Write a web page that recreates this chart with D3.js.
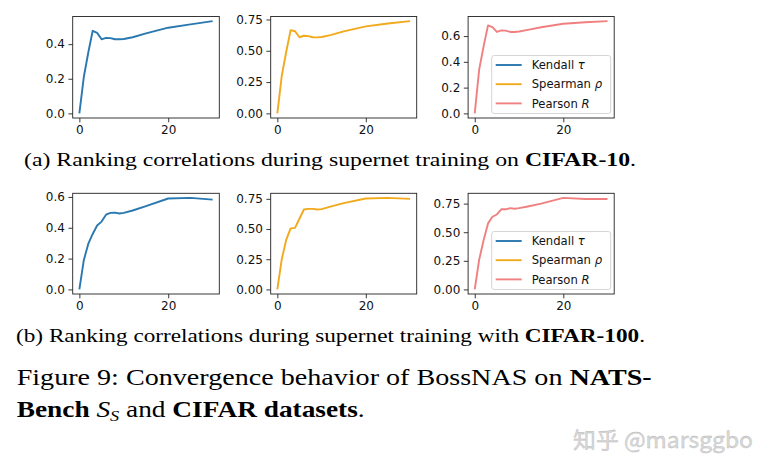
<!DOCTYPE html>
<html><head><meta charset="utf-8">
<script src="https://cdn.jsdelivr.net/npm/d3@7"></script>
<style>body{margin:0;background:#fff}svg{display:block}</style>
</head><body>
<svg id="c" width="772" height="473"></svg>
<script>
// ---- data ----
const epochs = [0,1,2,3,4,5,6,7,8,9,10,12,15,20,25,30];
const kendallC10  = [0,0.21,0.35,0.477,0.465,0.428,0.436,0.435,0.428,0.428,0.430,0.440,0.462,0.495,0.514,0.533];
const spearmanC10 = [0,0.30,0.49,0.665,0.656,0.608,0.620,0.617,0.608,0.607,0.610,0.625,0.655,0.695,0.718,0.737];
const pearsonC10  = [0,0.34,0.52,0.683,0.670,0.632,0.644,0.642,0.632,0.632,0.635,0.648,0.668,0.696,0.707,0.716];
const kendallC100  = [0,0.19,0.295,0.36,0.415,0.44,0.485,0.497,0.498,0.493,0.497,0.512,0.540,0.590,0.594,0.583];
const spearmanC100 = [0,0.25,0.41,0.505,0.51,0.585,0.662,0.667,0.667,0.662,0.665,0.685,0.715,0.753,0.758,0.750];
const pearsonC100  = [0,0.26,0.43,0.577,0.635,0.655,0.70,0.70,0.71,0.705,0.71,0.725,0.75,0.80,0.79,0.79];
const xTicks = [0, 20];
const yTicksA = [[0,0.2,0.4],[0,0.25,0.5,0.75],[0,0.2,0.4,0.6]];
const yTicksB = [[0,0.2,0.4,0.6],[0,0.25,0.5,0.75],[0,0.25,0.5,0.75]];
const yFmtA = [".1f", ".2f", ".1f"];
const yFmtB = [".1f", ".2f", ".2f"];
const seriesNames = ["Kendall", "Spearman", "Pearson"];
const seriesSymbols = ["τ", "ρ", "R"];
const colors = ["#2a78b0", "#f2a91c", "#f08080"];

const svg = d3.select("#c");
svg.append("rect").attr("width",772).attr("height",473).attr("fill","#fff");

const cols = [[72.7,219.3],[270.7,416.7],[468.1,614.2]];
const rows = [[16.5,118],[193.3,294]];

function panel(ci, ri, values, color, ticks, fmt, legend){
  const [x0,x1] = cols[ci], [y0,y1] = rows[ri];
  const x = d3.scaleLinear().domain([-1.5,31.5]).range([x0,x1]);
  const [mn,mx] = d3.extent(values); const pad = (mx-mn)*0.05;
  const y = d3.scaleLinear().domain([mn-pad, mx+pad]).range([y1,y0]);
  const g = svg.append("g");
  const ax = g.append("g").attr("transform",`translate(0,${y1})`)
    .call(d3.axisBottom(x).tickValues(xTicks).tickSize(4.3).tickPadding(3.5).tickFormat(d3.format("d")));
  const ay = g.append("g").attr("transform",`translate(${x0},0)`)
    .call(d3.axisLeft(y).tickValues(ticks).tickSize(4.3).tickPadding(3.5).tickFormat(d3.format(fmt)));
  [ax,ay].forEach(a=>{
    a.select(".domain").remove();
    a.selectAll("line").attr("stroke","#222").attr("stroke-width",0.9);
    a.selectAll("text").attr("font-family","DejaVu Sans").attr("font-size",12).attr("fill","#111");
  });
  const line = d3.line().x((d,i)=>x(epochs[i])).y(d=>y(d));
  g.append("path").datum(values).attr("d",line).attr("fill","none")
    .attr("stroke",color).attr("stroke-width",1.9).attr("stroke-linejoin","round");
  g.append("rect").attr("x",x0).attr("y",y0).attr("width",x1-x0).attr("height",y1-y0)
    .attr("fill","none").attr("stroke","#222").attr("stroke-width",0.9);
  if(legend){
    const bw=119, bh=58, bx=x1-3.5-bw, by=y1-4.5-bh;
    g.append("rect").attr("x",bx).attr("y",by).attr("width",bw).attr("height",bh).attr("rx",2.5)
      .attr("fill","#fff").attr("fill-opacity",0.85).attr("stroke","#d0d0d0").attr("stroke-width",0.9);
    seriesNames.forEach((n,i)=>{
      const cy = by + 9.5 + i*19.2;
      g.append("line").attr("x1",bx+4).attr("x2",bx+30).attr("y1",cy).attr("y2",cy)
        .attr("stroke",colors[i]).attr("stroke-width",1.9);
      const t = g.append("text").attr("x",bx+40).attr("y",cy).attr("dy","0.36em")
        .attr("font-family","DejaVu Sans").attr("font-size",11.6).attr("fill","#111");
      t.append("tspan").text(n+" ");
      t.append("tspan").attr("font-style","italic").text(seriesSymbols[i]);
    });
  }
}
const rowA=[kendallC10,spearmanC10,pearsonC10], rowB=[kendallC100,spearmanC100,pearsonC100];
rowA.forEach((v,i)=>panel(i,0,v,colors[i],yTicksA[i],yFmtA[i],i===2));
rowB.forEach((v,i)=>panel(i,1,v,colors[i],yTicksB[i],yFmtB[i],i===2));

// captions
function cap(x,y,size,len,parts){
  const t = svg.append("text").attr("x",x).attr("y",y).attr("font-family","Liberation Serif")
    .attr("font-size",size).attr("fill","#000")
    .attr("textLength",len).attr("lengthAdjust","spacingAndGlyphs");
  parts.forEach(p=>{
    const s=t.append("tspan").text(p[0]);
    if(p[1]) s.attr("font-weight","bold");
    if(p[2]) s.attr("font-style","italic");
    if(p[3]) s.attr("dy",p[3]).attr("font-size",p[4]);
  });
  return t;
}
cap(24,166,19.5,612,[["(a) Ranking correlations during supernet training on "],["CIFAR-10",1],["."]]);
cap(16,341.7,19.5,629,[["(b) Ranking correlations during supernet training with "],["CIFAR-100",1],["."]]);
cap(16.7,385,22.5,635,[["Figure 9:  Convergence behavior of BossNAS on "],["NATS-",1]]);
cap(16.7,416.7,22.5,348,[["Bench ",1],["S",0,1],["S",0,1,4,15],[" and ",0,0,-4,22.5],["CIFAR datasets",1],["."]]);

// watermark
svg.append("text").attr("x",573).attr("y",448).attr("font-family","Noto Sans CJK SC")
  .attr("font-size",22).attr("fill","#dadada").attr("stroke","#b5b5b5").attr("stroke-width",0.35)
  .attr("textLength",180).attr("lengthAdjust","spacingAndGlyphs")
  .text("知乎 @marsggbo");
</script>
</body></html>
